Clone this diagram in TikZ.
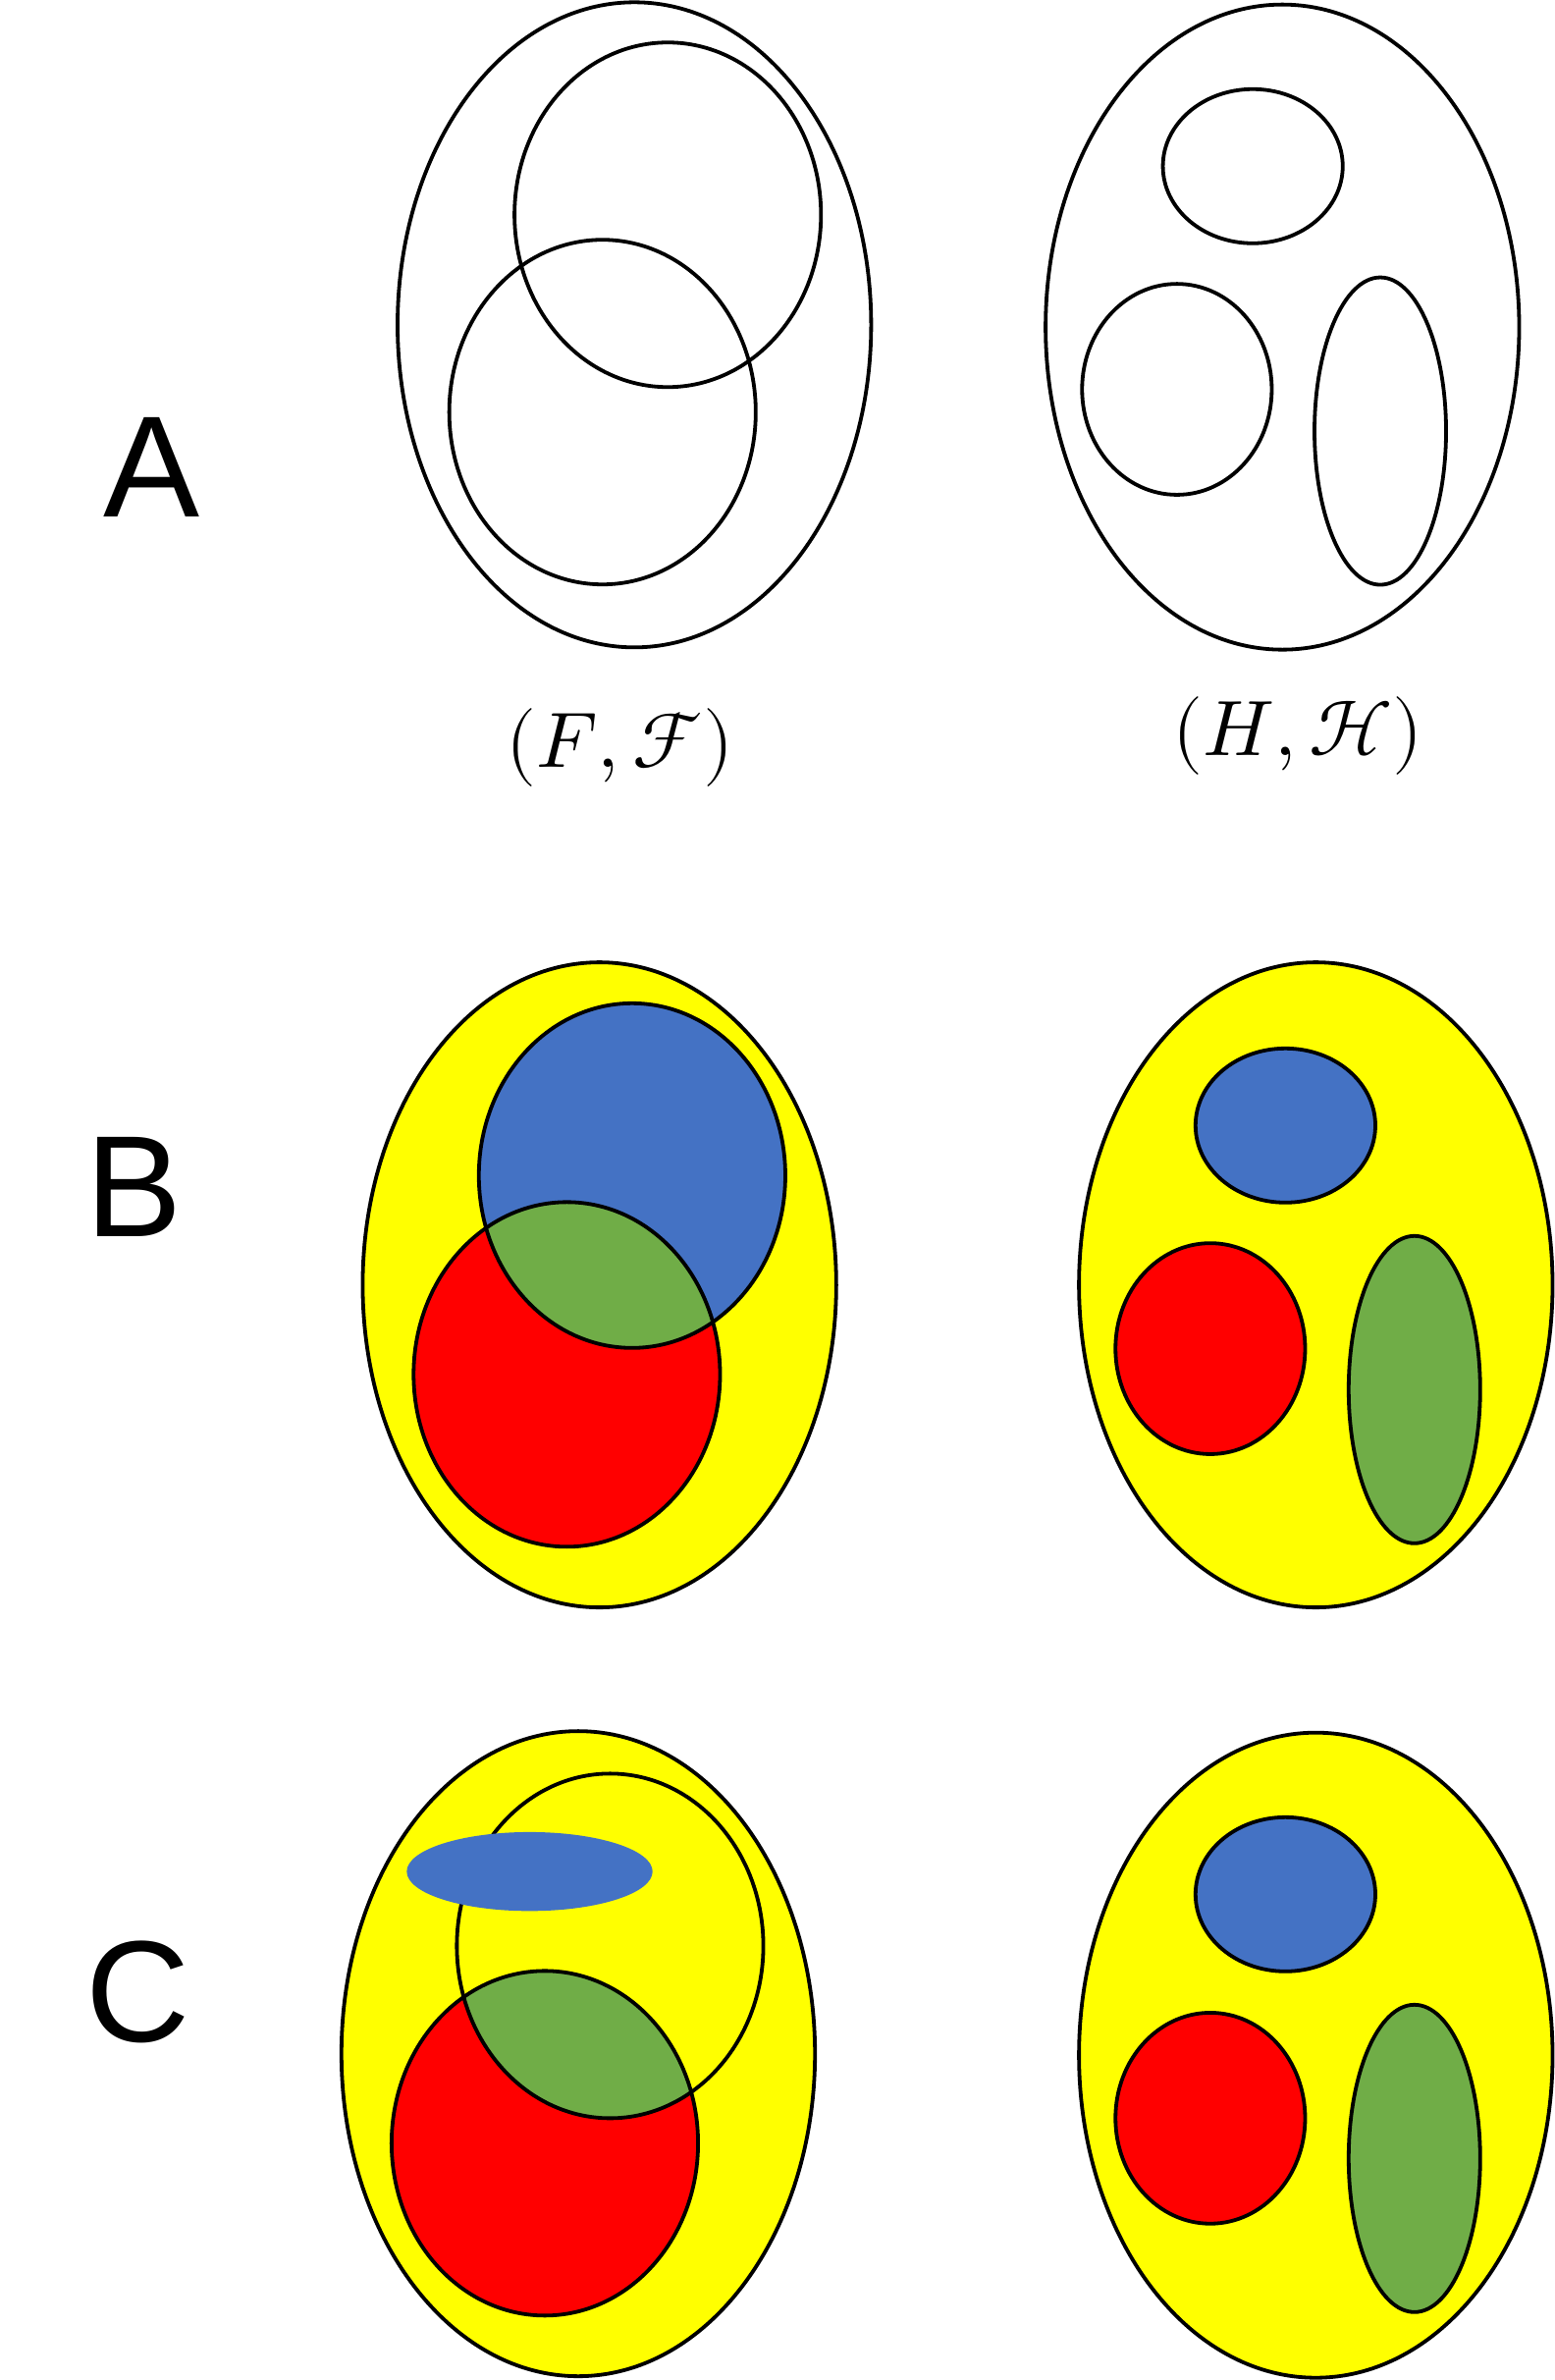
\documentclass[tikz,border=0pt]{standalone}
\usepackage{unicode-math}
\setmathfont{Latin Modern Math}
\newfontfamily\letterfont{Liberation Sans}
\definecolor{cyel}{HTML}{FFFF00}
\definecolor{cblue}{HTML}{4472C4}
\definecolor{cred}{HTML}{FF0000}
\definecolor{cgreen}{HTML}{70AD47}
\tikzset{
  outerell/.style={x radius=241.2pt, y radius=328.5pt},
  bigell/.style={x radius=156.1pt, y radius=175.5pt},
  topell/.style={x radius=91.6pt, y radius=78.5pt},
  leftell/.style={x radius=96.6pt, y radius=107.4pt},
  rightell/.style={x radius=67.0pt, y radius=156.5pt},
  flatell/.style={x radius=125.2pt, y radius=40.2pt},
  lbl/.style={anchor=base, inner sep=0pt, font=\letterfont\fontsize{147}{150}\selectfont},
  mlbl/.style={inner sep=0pt, font=\fontsize{80}{82}\selectfont},
  outl/.style={draw=black, line width=3.8pt}
}
\begin{document}
\begin{tikzpicture}[x=1.5459pt, y=-1.5459pt]
\useasboundingbox (0,0) rectangle (1024,1568);

% ---------- Panel A ----------
\node[lbl] (lA) at (100,340.3) {A};
\path[outl] (418,214) ellipse[outerell];
\path[outl] (440,141.5) ellipse[bigell];
\path[outl] (397,271.5) ellipse[bigell];
\path[outl] (845,215.5) ellipse[outerell];
\path[outl] (825.5,109.5) ellipse[topell];
\path[outl] (775.5,256.5) ellipse[leftell];
\path[outl] (909.5,284) ellipse[rightell];
\node[mlbl] (lF) at (408.6,492.7) {$(F,\mathcal{F})$};
\node[mlbl] (lH) at (855.2,484.8) {$(H,\mathcal{H})$};

% ---------- Panel B ----------
\node[lbl] (lB) at (88,815) {B};
\path[fill=cyel] (395,846.5) ellipse[outerell];
\path[fill=cblue] (416.5,774.5) ellipse[bigell];
\path[fill=cred] (373.5,905.5) ellipse[bigell];
\begin{scope}
  \clip (416.5,774.5) ellipse[bigell];
  \path[fill=cgreen] (373.5,905.5) ellipse[bigell];
\end{scope}
\path[outl] (395,846.5) ellipse[outerell];
\path[outl] (416.5,774.5) ellipse[bigell];
\path[outl] (373.5,905.5) ellipse[bigell];

\path[fill=cyel, outl] (867,846.5) ellipse[outerell];
\path[fill=cblue, outl] (847,741.5) ellipse[topell];
\path[fill=cred, outl] (797.5,888.5) ellipse[leftell];
\path[fill=cgreen, outl] (932,915.5) ellipse[rightell];

% ---------- Panel C ----------
\node[lbl] (lC) at (91,1345) {C};
\path[fill=cyel] (381,1353) ellipse[outerell];
\path[fill=cred] (359,1412) ellipse[bigell];
\begin{scope}
  \clip (402,1282) ellipse[bigell];
  \path[fill=cgreen] (359,1412) ellipse[bigell];
\end{scope}
\path[outl] (381,1353) ellipse[outerell];
\path[outl] (402,1282) ellipse[bigell];
\path[outl] (359,1412) ellipse[bigell];
\path[fill=cblue] (349,1233) ellipse[flatell];

\path[fill=cyel, outl] (867,1354) ellipse[outerell];
\path[fill=cblue, outl] (847,1248) ellipse[topell];
\path[fill=cred, outl] (797.5,1395.5) ellipse[leftell];
\path[fill=cgreen, outl] (932,1422) ellipse[rightell];
\end{tikzpicture}
\end{document}
